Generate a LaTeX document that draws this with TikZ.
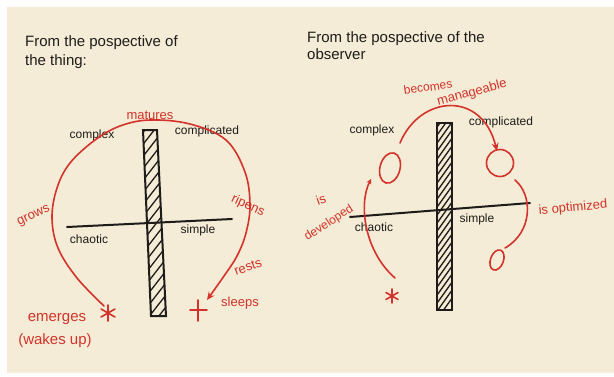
\documentclass[tikz,border=0pt]{standalone}
\usepackage{fontspec}
\setmainfont{Liberation Sans}
\usetikzlibrary{arrows.meta,shapes.geometric}
\definecolor{paper}{RGB}{244,236,214}
\definecolor{ink}{RGB}{30,28,26}
\definecolor{marker}{RGB}{212,50,42}
\begin{document}
\begin{tikzpicture}[x=1pt,y=-1pt,
  title/.style={text=ink,font=\fontsize{15}{15}\selectfont,inner sep=0,anchor=base west},
  lbl/.style={text=ink,font=\fontsize{12}{12}\selectfont,inner sep=0},
  rlbl/.style={text=marker,font=\fontsize{13}{13}\selectfont,inner sep=0},
  axisline/.style={draw=ink,line width=2pt,line cap=round},
  barline/.style={draw=ink,line width=2pt},
  hatch/.style={draw=ink,line width=1.3pt},
  redline/.style={draw=marker,line width=1.6pt,line cap=round},
  ring/.style={draw=marker,line width=1.6pt,inner sep=0},
  tip/.style={-{Stealth[length=8pt,width=7pt]}}]
\useasboundingbox (0,0) rectangle (614,376);
\fill[white] (0,0) rectangle (614,376);
\fill[paper] (7,7) rectangle (614,373);

% ---------- left diagram ----------
\node[title] (t1a) at (25,46) {From the pospective of};
\node[title] (t1b) at (25,65) {the thing:};

\coordinate (lb1) at (143,130); \coordinate (lb2) at (157,130);
\coordinate (lb3) at (166,316); \coordinate (lb4) at (151,316);
\begin{scope}
  \clip (lb1) -- (lb2) -- (lb3) -- (lb4) -- cycle;
  \foreach \k in {0,...,20} \draw[hatch] (120,150+\k*12) -- (190,150+\k*12-90);
\end{scope}
\draw[barline] (lb1) -- (lb2) -- (lb3) -- (lb4) -- cycle;

\coordinate (la1) at (67,227); \coordinate (la2) at (232,219);
\draw[axisline] (la1) -- (la2);

\node[lbl] (lcomplex) at (92,135) {complex};
\node[lbl] (lcomplicated) at (207,131) {complicated};
\node[lbl] (lchaotic) at (89,239) {chaotic};
\node[lbl] (lsimple) at (198,230) {simple};

\coordinate (lstar) at (108,313);
\coordinate (lcross) at (198,310);
\coordinate (larcs) at (104,306);
\coordinate (larce) at (207,300);
\draw[redline,tip] plot[smooth,tension=0.6] coordinates {(larcs) (77,278) (58,248) (52,218) (57,188) (70,163) (95,140) (120,126) (150,120) (190,124) (226,140) (245,172) (250,205) (246,233) (237,256) (224,276) (larce)};
\foreach \a in {90,30,150} \draw[redline] (lstar) ++(\a:8) -- ++(\a+180:16);
\draw[redline] (lcross) ++(-8,0) -- ++(17,0);
\draw[redline] (lcross) ++(0,-10) -- ++(0,21);

\node[rlbl] (matures) at (150,115) {matures};
\node[rlbl,rotate=25] (grows) at (34,216) {grows};
\node[rlbl,rotate=-25] (ripens) at (248,206) {ripens};
\node[rlbl,rotate=20] (rests) at (248,267) {rests};
\node[rlbl] (sleeps) at (240,303) {sleeps};
\node[rlbl,font=\fontsize{15}{15}\selectfont] (emerges) at (57,319) {emerges};
\node[rlbl,font=\fontsize{15}{15}\selectfont] (wakes) at (55,341) {(wakes up)};

% ---------- right diagram ----------
\node[title] (t2a) at (307,42) {From the pospective of the};
\node[title] (t2b) at (307,59) {observer};

\coordinate (rb1) at (437,123); \coordinate (rb2) at (452,123);
\coordinate (rb3) at (452,310); \coordinate (rb4) at (437,310);
\begin{scope}
  \clip (rb1) -- (rb2) -- (rb3) -- (rb4) -- cycle;
  \foreach \k in {0,...,26} \draw[hatch] (420,135+\k*8) -- (470,135+\k*8-70);
\end{scope}
\draw[barline] (rb1) -- (rb2) -- (rb3) -- (rb4) -- cycle;

\coordinate (ra1) at (350,217); \coordinate (ra2) at (530,203);
\draw[axisline] (ra1) -- (ra2);

\node[lbl] (rcomplex) at (372,130) {complex};
\node[lbl] (rcomplicated) at (501,122) {complicated};
\node[lbl] (rchaotic) at (374,227) {chaotic};
\node[lbl] (rsimple) at (477,219) {simple};

\node[ring,ellipse,minimum width=20pt,minimum height=31pt,rotate=-15] (ocomplex) at (390,168) {};
\node[ring,circle,minimum size=27pt] (ocomplicated) at (500,163) {};
\node[ring,ellipse,minimum width=13pt,minimum height=21pt,rotate=-20] (osimple) at (497,260) {};

\coordinate (rstar) at (392,296);
\foreach \a in {90,30,150} \draw[redline] (rstar) ++(\a:7) -- ++(\a+180:14);

\coordinate (bms) at (400,143);
\coordinate (bme) at (497,151);
\draw[redline,tip] (bms) .. controls (420,95) and (482,90) .. (bme);
\coordinate (dvs) at (395,278);
\coordinate (dve) at (371,179);
\draw[redline,-{Stealth[length=5pt,width=5pt]}] (dvs) .. controls (365,252) and (358,205) .. (dve);
\coordinate (ops) at (515,180);
\coordinate (ope) at (505,248);
\draw[redline] (ops) .. controls (533,195) and (533,232) .. (ope);

\node[rlbl,rotate=8,font=\fontsize{12}{12}\selectfont] (becomes) at (428,87) {becomes};
\node[rlbl,rotate=15] (manageable) at (472,93) {manageable};
\node[rlbl,rotate=20] (is1) at (321,200) {is};
\node[rlbl,rotate=33,font=\fontsize{12}{12}\selectfont] (developed) at (329,223) {developed};
\node[rlbl,rotate=5] (optimized) at (573,208) {is optimized};
\end{tikzpicture}
\end{document}
